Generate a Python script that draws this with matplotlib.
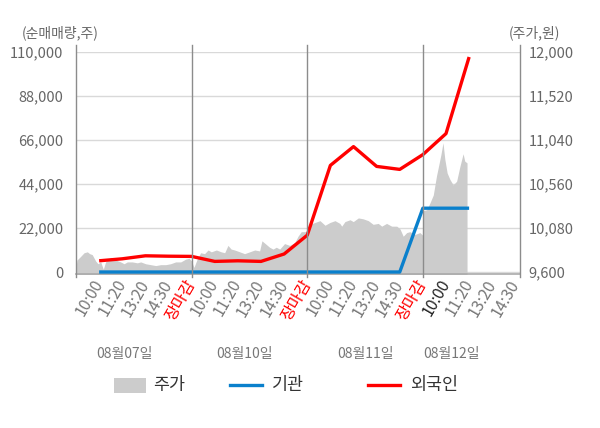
import matplotlib.pyplot as plt
from matplotlib.patches import Rectangle
from matplotlib.lines import Line2D

plt.rcParams['font.family'] = ['Noto Sans CJK KR', 'DejaVu Sans']

# x tick labels, one slot per label
tick_labels = ['10:00', '11:20', '13:20', '14:30', '장마감'] * 3 + ['10:00', '11:20', '13:20', '14:30']
day_labels = ['08월07일', '08월10일', '08월11일', '08월12일']

# net buy volume (shares) at each slot 1..17
foreign = [5600, 6600, 8100, 7900, 7800, 5300, 5600, 5300, 9000, 18400,
           53300, 62700, 52800, 51300, 58700, 69200, 107500]
institution = [0, 0, 0, 0, 0, 0, 0, 0, 0, 0, 0, 0, 0, 0, 31900, 31900, 31900]

# stock price, position in slot units
price_pos = [0.00, 0.04, 0.20, 0.35, 0.49, 0.59, 0.70, 0.85, 0.95, 1.07, 1.18, 1.28, 1.50, 1.72,
             1.93, 2.08, 2.22, 2.43, 2.65, 2.80, 3.01, 3.23, 3.45, 3.66, 3.88, 4.09, 4.31, 4.53,
             4.74, 4.89, 5.00,
             5.10, 5.24, 5.39, 5.56, 5.71, 5.85, 6.07, 6.28, 6.43, 6.57, 6.71, 6.86, 7.08, 7.29,
             7.51, 7.73, 7.94, 8.04, 8.23, 8.37, 8.52, 8.66, 8.81, 9.02, 9.24, 9.46, 9.60, 9.74, 9.96,
             10.12, 10.33, 10.55, 10.77, 10.98, 11.20, 11.41, 11.49, 11.63, 11.85, 11.99, 12.21,
             12.42, 12.64, 12.85, 13.07, 13.22, 13.43, 13.65, 13.87, 14.01, 14.15, 14.30, 14.44,
             14.66, 14.87, 15.00,
             15.03, 15.17, 15.30, 15.45, 15.59, 15.69, 15.78, 15.87, 15.95, 16.05, 16.17, 16.31,
             16.46, 16.60, 16.74, 16.81, 16.91]
price_val = [9650, 9730, 9770, 9810, 9820, 9800, 9790, 9720, 9690, 9710, 9630, 9710, 9760, 9730,
             9710, 9690, 9710, 9710, 9700, 9710, 9690, 9680, 9670, 9680, 9680, 9690, 9710, 9710,
             9740, 9750, 9720,
             9650, 9740, 9810, 9800, 9840, 9820, 9840, 9820, 9810, 9890, 9850, 9840, 9820, 9800,
             9820, 9840, 9830, 9940, 9900, 9870, 9850, 9870, 9850, 9910, 9890, 9920, 9990, 10040, 10040,
             10120, 10140, 10160, 10110, 10140, 10160, 10130, 10100, 10150, 10170, 10150, 10190,
             10180, 10160, 10120, 10130, 10100, 10130, 10100, 10100, 10070, 9990, 10030, 10040,
             10010, 10030, 10000,
             10270, 10280, 10350, 10440, 10650, 10770, 10880, 11010, 10830, 10680, 10610, 10550,
             10590, 10750, 10890, 10810, 10790]

left_ticks = [0, 22000, 44000, 66000, 88000, 110000]
right_ticks = [9600, 10080, 10560, 11040, 11520, 12000]

slots = list(range(1, len(tick_labels) + 1))
line_x = slots[:len(foreign)]

fig = plt.figure(figsize=(6, 4.28), dpi=100)
ax = fig.add_axes([76 / 600, 1 - 274 / 428, 444 / 600, 222 / 428])
ax2 = ax.twinx()

# price area on the right axis, grid behind it
ax2.fill_between(price_pos, price_val, 9500, color='#cccccc', lw=0, zorder=2)
ax2.set_ylim(9600 - 1000 / 110000 * 2400, 12000)
ax2.set_yticks(right_ticks)
ax2.set_yticklabels([f'{v:,}' for v in right_ticks])
ax2.grid(axis='y', color='#d9d9d9', lw=1)
ax2.set_axisbelow(True)

ax.set_zorder(ax2.get_zorder() + 1)
ax.patch.set_visible(False)
ax2.patch.set_facecolor('#f4f4f4')

ax.plot(line_x, institution, color='#0a80cc', lw=2.4, solid_capstyle='butt', zorder=4)
ax.plot(line_x, foreign, color='#ff0000', lw=2.4, solid_capstyle='butt', zorder=5)

ax.set_xlim(0, 19.2)
ax.set_ylim(-1000, 110000)
ax.set_yticks(left_ticks)
ax.set_yticklabels([f'{v:,}' for v in left_ticks])
ax.grid(False)

for a in (ax, ax2):
    for s in a.spines.values():
        s.set_visible(False)
    a.tick_params(length=0, labelsize=10.5, labelcolor='#666666')
ax.tick_params(axis='y', pad=9)
ax2.tick_params(axis='y', pad=6)

# day separators and side lines
for xv in [0, 5, 10, 15, 19.2]:
    ax.axvline(xv, ymin=-0.015, ymax=1.03, color='#8c8c8c', lw=1, clip_on=False, zorder=6)
ax.axhline(-1000, color='#aaaaaa', lw=1.2, clip_on=False, zorder=3)

ax.set_xticks(slots)
ax.set_xticklabels(tick_labels, rotation=60, ha='right', va='center', rotation_mode='anchor')
for i, lbl in enumerate(ax.get_xticklabels()):
    if tick_labels[i] == '장마감':
        lbl.set_color('#ff0000')
    elif i == 15:
        lbl.set_color('#222222')
    else:
        lbl.set_color('#777777')
ax.tick_params(axis='x', pad=5, labelsize=11.5)

# day labels under the ticks
trans = ax.get_xaxis_transform()
for xd, d in zip([2.1, 7.3, 12.5, 16.25], day_labels):
    ax.text(xd, -0.36, d, transform=trans, ha='center', va='center', fontsize=10, color='#777777')

fig.text(22 / 600, 1 - 33 / 428, '(순매매량,주)', fontsize=10, color='#666666', va='center')
fig.text(509 / 600, 1 - 33 / 428, '(주가,원)', fontsize=10, color='#666666', va='center')

# legend
ly = 1 - 385 / 428
fig.patches.append(Rectangle((114 / 600, 1 - 393 / 428), 32 / 600, 15 / 428,
                             transform=fig.transFigure, color='#cccccc', lw=0))
fig.lines.append(Line2D([230 / 600, 262 / 600], [ly, ly], transform=fig.transFigure,
                        color='#0a80cc', lw=2.4))
fig.lines.append(Line2D([368 / 600, 400 / 600], [ly, ly], transform=fig.transFigure,
                        color='#ff0000', lw=2.4))
fig.text(153 / 600, ly, '주가', fontsize=12.5, color='#333333', va='center')
fig.text(272 / 600, ly, '기관', fontsize=12.5, color='#333333', va='center')
fig.text(410 / 600, ly, '외국인', fontsize=12.5, color='#333333', va='center')

fig.savefig('out.png', dpi=100)
